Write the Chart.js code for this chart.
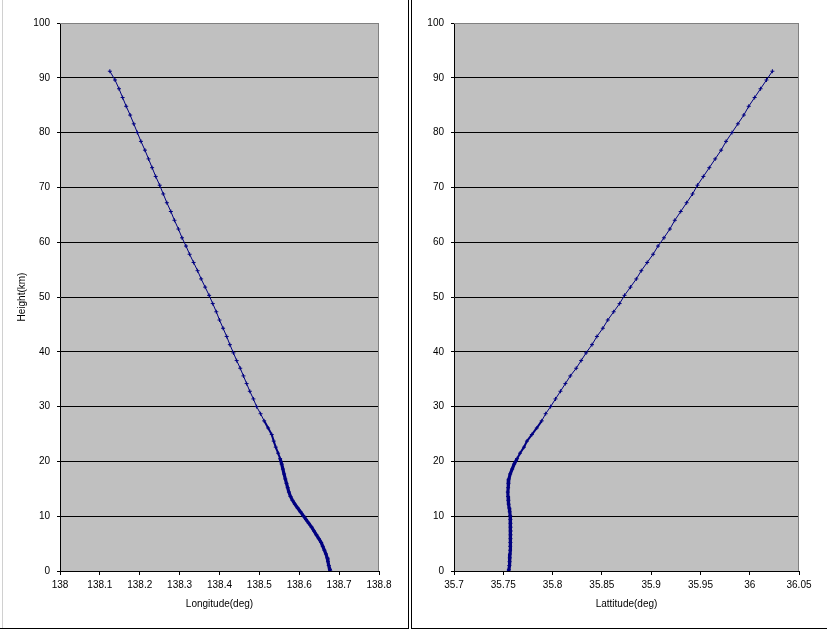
<!DOCTYPE html>
<html>
<head>
<meta charset="utf-8">
<script src="https://cdn.jsdelivr.net/npm/chart.js@4/dist/chart.umd.min.js"></script>
<style>
  body { margin: 0; background: #fff; width: 827px; height: 631px; overflow: hidden; position: relative; }
  canvas { position: absolute; top: 0; }
  #izq { left: 0; }
  #der { left: 412px; }
  .marco { position: absolute; border: 0 solid #000; }
  .celda { position: absolute; background: #d0d0d0; }
</style>
</head>
<body>
<div class="celda" style="left:2px;top:0;width:1px;height:628px"></div>
<div class="marco" style="left:0;top:0;width:408px;height:628px;border-right-width:1px;border-bottom-width:1px"></div>
<div class="marco" style="left:411px;top:0;width:420px;height:628px;border-left-width:1px;border-bottom-width:1px"></div>
<canvas id="izq" width="408" height="628"></canvas>
<canvas id="der" width="415" height="628"></canvas>
<script>
// Datos de la trayectoria (altura en km)
const alturas = [91.2, 89.6, 88.0, 86.4, 84.8, 83.2, 81.6, 80.0, 78.4, 76.8, 75.2, 73.6, 72.0, 70.4, 68.8, 67.2,
  65.6, 64.0, 62.4, 60.8, 59.3, 57.8, 56.3, 54.8, 53.3, 51.8, 50.3, 48.8, 47.3, 45.8, 44.3, 42.8, 41.3, 39.8,
  38.4, 37.0, 35.6, 34.2, 32.8, 31.4, 30.0, 28.7, 27.4, 26.1, 24.9, 23.7, 22.6, 21.5, 20.5, 19.5, 18.6, 17.7,
  16.8, 16.0, 15.2, 14.4, 13.6, 12.9, 12.2, 11.5, 10.8, 10.1, 9.4, 8.7, 8.0, 7.3, 6.6, 5.9, 5.2, 4.5, 3.8,
  3.1, 2.4, 1.7, 1.0, 0.3, 0.0];

const longitudes = [138.125, 138.138, 138.148, 138.157, 138.166, 138.176, 138.185, 138.194, 138.203, 138.213,
  138.222, 138.231, 138.240, 138.250, 138.259, 138.268, 138.278, 138.287, 138.297, 138.306, 138.316, 138.325,
  138.335, 138.345, 138.354, 138.364, 138.374, 138.383, 138.392, 138.400, 138.409, 138.418, 138.426, 138.435,
  138.443, 138.452, 138.460, 138.468, 138.476, 138.485, 138.493, 138.503, 138.512, 138.522, 138.531, 138.536,
  138.541, 138.547, 138.552, 138.556, 138.559, 138.562, 138.565, 138.568, 138.571, 138.574, 138.578, 138.583,
  138.589, 138.596, 138.603, 138.610, 138.617, 138.624, 138.631, 138.637, 138.643, 138.649, 138.655, 138.659,
  138.663, 138.667, 138.670, 138.672, 138.674, 138.677, 138.678];

const latitudes = [36.023, 36.017, 36.011, 36.005, 35.999, 35.994, 35.988, 35.982, 35.976, 35.971, 35.965,
  35.959, 35.953, 35.947, 35.942, 35.936, 35.930, 35.924, 35.919, 35.913, 35.907, 35.902, 35.896, 35.890,
  35.885, 35.879, 35.873, 35.868, 35.862, 35.856, 35.851, 35.845, 35.840, 35.834, 35.829, 35.824, 35.818,
  35.813, 35.808, 35.803, 35.798, 35.793, 35.789, 35.784, 35.779, 35.774, 35.771, 35.767, 35.764, 35.761,
  35.759, 35.757, 35.7557, 35.7552, 35.7549, 35.7546, 35.7548, 35.7551, 35.7555, 35.7560, 35.7565, 35.7570,
  35.7572, 35.7573, 35.7574, 35.7575, 35.7574, 35.7573, 35.7572, 35.7570, 35.7569, 35.7568, 35.7566, 35.7564,
  35.7561, 35.7557, 35.7555];

// Etiquetas de los ejes
const ticksAltura = [0, 10, 20, 30, 40, 50, 60, 70, 80, 90, 100];
const ticksLongitud = [138, 138.1, 138.2, 138.3, 138.4, 138.5, 138.6, 138.7, 138.8];
const ticksLatitud = [35.7, 35.75, 35.8, 35.85, 35.9, 35.95, 36, 36.05];

Chart.defaults.font.family = '"Liberation Sans", Arial, sans-serif';
Chart.defaults.font.size = 10;
Chart.defaults.color = '#000';

// Fondo gris del área de trazado y marco gris
const fondoPlot = {
    id: 'fondoPlot',
    beforeDraw(chart) {
        const a = chart.chartArea;
        const ctx = chart.ctx;
        ctx.save();
        ctx.fillStyle = '#c0c0c0';
        ctx.fillRect(a.left, a.top, a.right - a.left, a.bottom - a.top);
        ctx.restore();
    },
    beforeDatasetsDraw(chart) {
        const a = chart.chartArea;
        const ctx = chart.ctx;
        ctx.save();
        ctx.strokeStyle = '#808080';
        ctx.lineWidth = 1;
        ctx.beginPath();
        ctx.moveTo(a.left, a.top + 0.5);
        ctx.lineTo(a.right - 0.5, a.top + 0.5);
        ctx.lineTo(a.right - 0.5, a.bottom);
        ctx.stroke();
        ctx.restore();
    }
};

function formato(v) {
    return parseFloat(v.toFixed(2)).toString();
}

// Grosor del trazo: más denso cerca del suelo
function grosor(c) {
    const y = c.p1.parsed.y;
    if (y < 20) return 3.2;
    if (y < 27) return 2;
    return 1;
}

// Función para crear cada gráfico
function crearGrafico(canvasId, valoresX, ticksX, tituloX, tituloY, anchoY, padDer) {
    const ctx = document.getElementById(canvasId).getContext('2d');
    return new Chart(ctx, {
        type: 'scatter',
        data: {
            datasets: [{
                data: valoresX.map((x, i) => ({ x: x, y: alturas[i] })),
                showLine: true,
                borderColor: '#000080',
                borderWidth: 1,
                pointStyle: 'cross',
                pointRadius: 2,
                pointBorderColor: '#000080',
                pointBorderWidth: 1,
                segment: { borderWidth: grosor }
            }]
        },
        options: {
            responsive: false,
            animation: false,
            devicePixelRatio: 1,
            layout: { padding: { left: 0, right: padDer, top: 23, bottom: 0 } },
            plugins: {
                legend: { display: false },
                tooltip: { enabled: false }
            },
            scales: {
                x: {
                    type: 'linear',
                    min: ticksX[0],
                    max: ticksX[ticksX.length - 1],
                    afterBuildTicks: s => { s.ticks = ticksX.map(v => ({ value: v })); },
                    afterFit: s => { s.height = 57; },
                    border: { color: '#000', width: 1 },
                    grid: { drawOnChartArea: false, drawTicks: true, tickLength: 4, color: '#000' },
                    ticks: { padding: 4, maxRotation: 0, autoSkip: false, callback: v => formato(v) },
                    title: { display: true, text: tituloX, padding: { top: 0, bottom: 18 } }
                },
                y: {
                    type: 'linear',
                    min: 0,
                    max: 100,
                    afterBuildTicks: s => { s.ticks = ticksAltura.map(v => ({ value: v })); },
                    afterFit: s => { s.width = anchoY; },
                    border: { color: '#000', width: 1 },
                    grid: {
                        color: c => (c.tick && c.tick.value === 100) ? '#808080' : '#000',
                        tickColor: '#000',
                        tickLength: 3
                    },
                    ticks: { padding: 7, autoSkip: false },
                    title: { display: tituloY !== '', text: tituloY, padding: { top: 16, bottom: 0 } }
                }
            }
        },
        plugins: [fondoPlot]
    });
}

crearGrafico('izq', longitudes, ticksLongitud, 'Longitude(deg)', 'Height(km)', 60, 29);
crearGrafico('der', latitudes, ticksLatitud, 'Lattitude(deg)', '', 42, 28);
</script>
</body>
</html>
